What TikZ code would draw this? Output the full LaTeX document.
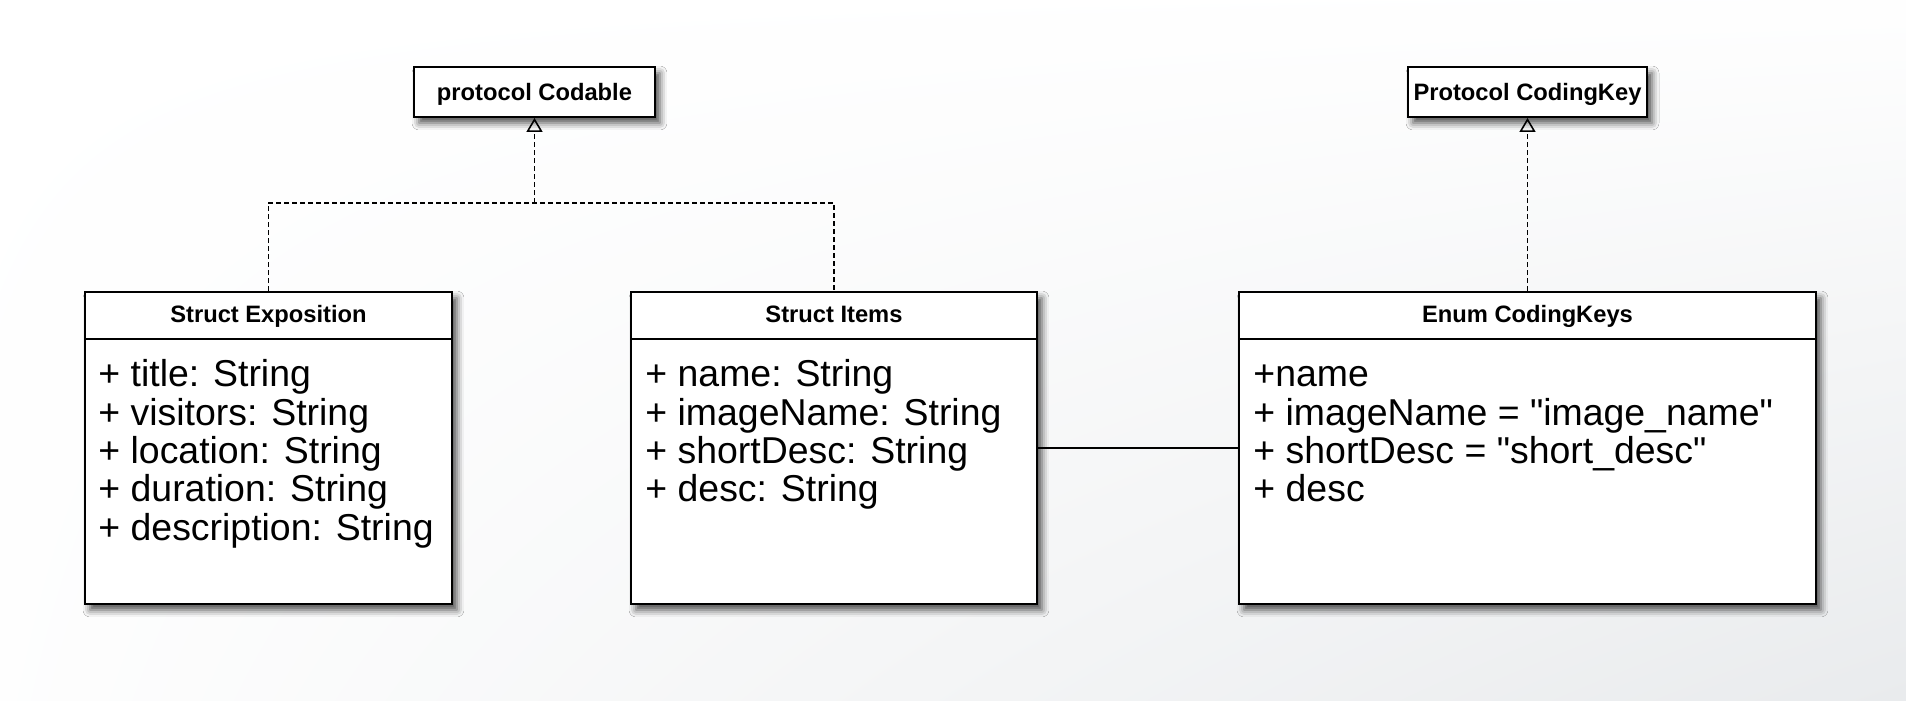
\documentclass[tikz,border=0pt]{standalone}
\usepackage{fontspec}
\setmainfont{Liberation Sans}[Ligatures=TeXOff]
\usepackage{xcolor}
\usepackage{tikz}
\usetikzlibrary{arrows.meta,calc,shadings,shadows.blur}

\definecolor{bgcorner}{HTML}{E9EBED}

\begin{document}
\begin{tikzpicture}[
    x=0.02cm, y=-0.02cm,
    classbox/.style={rectangle, draw, line width=1.1pt, fill=white, minimum height=6.24cm,
        blur shadow={shadow xshift=0.1cm, shadow yshift=-0.12cm, shadow blur radius=0.14cm, shadow opacity=70}},
    protobox/.style={classbox, minimum height=1cm},
    hdr/.style={font=\fontsize{13.5pt}{16pt}\selectfont\bfseries, inner sep=0pt, anchor=base},
    attrs/.style={font=\fontsize{21.3pt}{21.8pt}\selectfont, align=left, inner sep=0pt, anchor=base west},
    realize/.style={dash pattern=on 0.1cm off 0.06cm, line width=0.9pt},
    hollow/.style={-{Triangle[open, length=0.28cm, width=0.32cm, line width=0.9pt]}},
    assoc/.style={line width=0.8pt},
]
    % background
    \shade[upper left=white, upper right=white!97!bgcorner, lower left=white!94!bgcorner, lower right=bgcorner]
        (0,0) rectangle (1906,700);
    \useasboundingbox (0,0) rectangle (1906,700);

    % protocols
    \node[protobox, minimum width=4.82cm] (codable) at (534.5,92) {};
    \node[hdr] at ($(codable)+(0,8)$) {protocol Codable};
    \node[protobox, minimum width=4.78cm] (codingkey) at (1527.5,92) {};
    \node[hdr] at ($(codingkey)+(0,8)$) {Protocol CodingKey};

    % classes (attribute nodes sit on the baseline of their last line)
    \node[classbox, minimum width=7.34cm] (expo) at (268.5,448) {};
    \node[hdr] at ($(expo.north)+(0,31)$) {Struct Exposition};
    \draw[line width=1.1pt] ($(expo.north west)+(0,48)$) -- ($(expo.north east)+(0,48)$);
    \node[attrs] at ($(expo.north west)+(14,249)$) {+ title: String\\+ visitors: String\\+ location: String\\+ duration: String\\+ description: String};

    \node[classbox, minimum width=8.12cm] (items) at (834,448) {};
    \node[hdr] at ($(items.north)+(0,31)$) {Struct Items};
    \draw[line width=1.1pt] ($(items.north west)+(0,48)$) -- ($(items.north east)+(0,48)$);
    \node[attrs] at ($(items.north west)+(15,210.6)$) {+ name: String\\+ imageName: String\\+ shortDesc: String\\+ desc: String};

    \node[classbox, minimum width=11.54cm] (enum) at (1527.5,448) {};
    \node[hdr] at ($(enum.north)+(0,31)$) {Enum CodingKeys};
    \draw[line width=1.1pt] ($(enum.north west)+(0,48)$) -- ($(enum.north east)+(0,48)$);
    \node[attrs] at ($(enum.north west)+(15,210.6)$) {+name\\+ imageName = "image\_name"\\+ shortDesc = "short\_desc"\\+ desc};

    % connectors
    \coordinate (join) at (534.5,203);
    \draw[realize] (expo.north) |- (join) -| (items.north);
    \draw[realize, hollow] (join) -- (codable.south);
    \draw[realize, hollow] (enum.north) -- (codingkey.south);
    \draw[assoc] (items.east) -- (enum.west);
\end{tikzpicture}
\end{document}
